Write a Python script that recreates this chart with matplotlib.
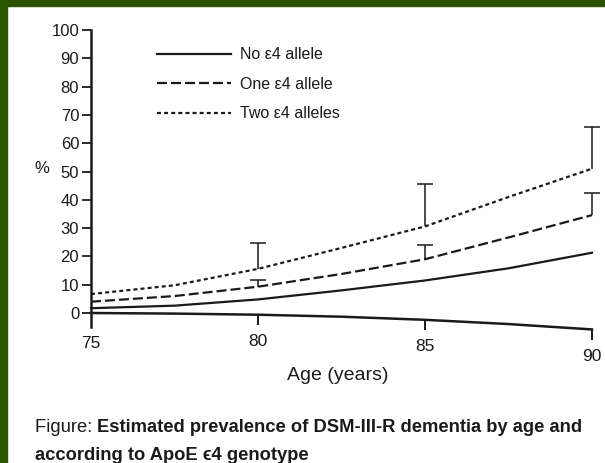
import matplotlib
matplotlib.use('Agg')
import matplotlib.pyplot as plt
from matplotlib.patches import Rectangle

# values
ages = [75, 77.5, 80, 82.5, 85, 87.5, 90]
no_e4 = [1.7, 2.6, 4.8, 8.0, 11.5, 15.8, 21.3]
one_e4 = [4.0, 6.0, 9.3, 13.8, 19.0, 26.7, 34.6]
two_e4 = [6.7, 9.8, 15.6, 23.0, 30.6, 41.0, 51.0]

bar_ages = [80, 85, 90]
one_upper = [11.7, 24.0, 42.3]
two_upper = [24.9, 45.6, 65.6]

# the scanned x axis sags towards the right
axis_line = [0, -0.2, -0.6, -1.3, -2.4, -3.9, -5.8]

x_ticks = [75, 80, 85, 90]
y_ticks = list(range(0, 101, 10))

ink = '#1a1a1a'
plt.rcParams['font.family'] = ['Liberation Sans', 'DejaVu Sans']

fig = plt.figure(figsize=(6.05, 4.63), dpi=100)
fig.patches.append(Rectangle((0, 1 - 6 / 463), 1, 6 / 463, transform=fig.transFigure,
                             color='#2a5000', zorder=0))
fig.patches.append(Rectangle((0, 0), 7 / 605, 1, transform=fig.transFigure,
                             color='#2c5600', zorder=0))

ax = fig.add_axes([91 / 605, 1 - 330 / 463, 501 / 605, 300 / 463])
ax.set_xlim(75, 90)
ax.set_ylim(-6, 100)
ax.patch.set_visible(False)

lw = 1.6
ax.plot(ages, no_e4, color=ink, lw=lw, clip_on=False, label='No ε4 allele')
ax.plot(ages, one_e4, color=ink, lw=lw, ls=(0, (4.5, 1.8)), clip_on=False,
        label='One ε4 allele')
ax.plot(ages, two_e4, color=ink, lw=lw, ls=(0, (1.8, 1.4)), clip_on=False,
        label='Two ε4 alleles')

# one-sided error bars with caps
for series, upper in [(one_e4, one_upper), (two_e4, two_upper)]:
    base = [series[ages.index(a)] for a in bar_ages]
    ax.vlines(bar_ages, base, upper, color=ink, lw=1.1, clip_on=False)
    ax.plot(bar_ages, upper, ls='none', marker='_', ms=11.5, mew=1.1,
            color=ink, clip_on=False)

# bent bottom axis with its ticks and labels
ax.plot(ages, axis_line, color=ink, lw=1.8, clip_on=False)
for a in x_ticks:
    y0 = axis_line[ages.index(a)]
    if a == 75:
        end = -5.0
    else:
        end = y0 - 3.6
        ax.vlines(a, end, y0, color=ink, lw=1.4, clip_on=False)
    ax.text(a, end - 5.8, str(a), ha='center', va='center', fontsize=12.5,
            color=ink, clip_on=False)

ax.spines['top'].set_visible(False)
ax.spines['right'].set_visible(False)
ax.spines['bottom'].set_visible(False)
ax.spines['left'].set_bounds(-5, 100)
ax.spines['left'].set_linewidth(1.8)
ax.spines['left'].set_color(ink)

ax.set_xticks([])
ax.set_yticks(y_ticks)
ax.tick_params(axis='y', length=6.5, width=1.3, pad=2, labelsize=12,
               colors=ink)

ax.set_ylabel('%', rotation=0, fontsize=12, color=ink, ha='center', va='center')
ax.yaxis.set_label_coords(-0.098, 0.538)
ax.set_xlabel('Age (years)', fontsize=14, color=ink, va='center')
ax.xaxis.set_label_coords(0.493, -0.15)

leg = ax.legend(loc='upper left', bbox_to_anchor=(0.132, 0.943), frameon=False,
                fontsize=11.5, handlelength=4.6, handletextpad=0.6,
                labelspacing=0.92, borderpad=0, borderaxespad=0)
for t in leg.get_texts():
    t.set_color(ink)

# caption: plain "Figure:" followed by bold text, sized to span the same width
cap_font = ['Liberation Sans', 'DejaVu Sans']
r = fig.canvas.get_renderer()
x0 = 35 / 605
y1 = 1 - 432 / 463
y2 = 1 - 460 / 463
size = 15
t0 = fig.text(x0, y1, 'Figure: ', family=cap_font, fontsize=size,
              va='baseline', color=ink)
t1 = fig.text(x0, y1, 'Estimated prevalence of DSM-III-R dementia by age and',
              family=cap_font, fontsize=size, fontweight='bold', va='baseline',
              color=ink)
full = t0.get_window_extent(renderer=r).width + t1.get_window_extent(renderer=r).width
size = size * 548 / full
t0.set_fontsize(size)
t1.set_fontsize(size)
w = t0.get_window_extent(renderer=r).width / fig.bbox.width
t1.set_x(x0 + w)
fig.text(x0, y2, 'according to ApoE ϵ4 genotype', family=cap_font, fontsize=size,
         fontweight='bold', va='baseline', color=ink)

fig.savefig('out.png', dpi=100)
